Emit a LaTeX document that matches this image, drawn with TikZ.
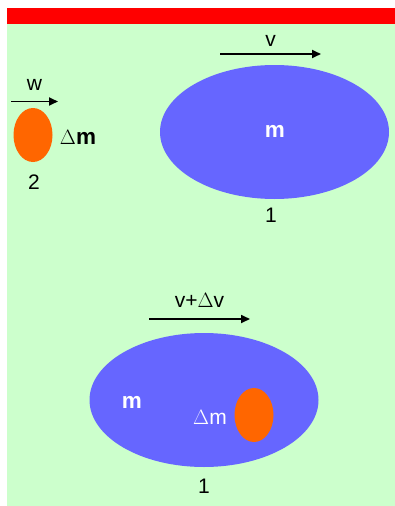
\documentclass[tikz,border=0pt]{standalone}
\usepackage{fontspec}
\setmainfont{Liberation Sans}
\usetikzlibrary{shapes.geometric,arrows.meta}
\definecolor{bggreen}{HTML}{CCFFCC}
\definecolor{bodyblue}{HTML}{6666FF}
\definecolor{droporange}{HTML}{FF6600}
\begin{document}
\begin{tikzpicture}[x=1pt,y=-1pt,
  body/.style={ellipse,fill=bodyblue,inner sep=0pt,minimum width=229pt,minimum height=134pt},
  drop/.style={ellipse,fill=droporange,inner sep=0pt,minimum width=39pt,minimum height=54pt},
  lbl/.style={inner sep=0pt,font=\fontsize{21}{24}\selectfont},
  blbl/.style={inner sep=0pt,font=\fontsize{22.5}{24}\selectfont\bfseries},
  vel/.style={-{Triangle[length=9pt,width=8pt]},line width=1.7pt}]
\useasboundingbox (0,0) rectangle (395,506);
\fill[bggreen] (7,8) rectangle (395,506);
\fill[red] (7,8) rectangle (395,24);
% body 1 before
\node[body] (bodyA) at (274.5,132) {};
\node[blbl,text=white] (mA) at (275,131) {m};
\node[lbl] (oneA) at (271,215) {1};
\coordinate (vS) at (220,54);
\coordinate (vE) at (321,54);
\draw[vel] (vS) -- (vE) node[lbl,midway,above=7pt]{v};
% drop 2
\node[drop] (dropA) at (33,135) {};
\node[blbl] (dmA) at (78,137) {$\Delta$m};
\node[lbl] (twoA) at (34,182) {2};
\coordinate (wS) at (11,101.5);
\coordinate (wE) at (58,101.5);
\draw[vel] (wS) -- (wE) node[lbl,midway,above=10pt]{w};
% body 1 after
\node[body] (bodyB) at (204,400) {};
\node[drop] (dropB) at (254,415) {};
\node[blbl,text=white] (mB) at (132,402) {m};
\node[lbl,text=white] (dmB) at (210,417) {$\Delta$m};
\node[lbl] (oneB) at (204,486) {1};
\coordinate (uS) at (149,319);
\coordinate (uE) at (250,319);
\draw[vel] (uS) -- (uE) node[lbl,midway,above=11pt]{v+$\Delta$v};
\end{tikzpicture}
\end{document}
